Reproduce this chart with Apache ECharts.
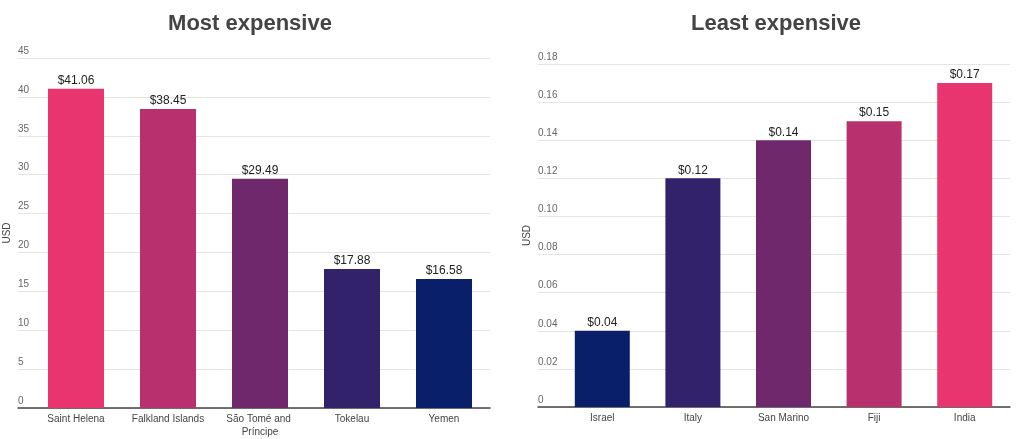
<!DOCTYPE html>
<html>
<head>
    <meta charset="utf-8">
    <title>Most / Least expensive</title>
    <script src="https://cdn.jsdelivr.net/npm/echarts@6.0.0/dist/echarts.min.js"></script>
    <style>
        html, body { margin: 0; padding: 0; background: #fff; }
    </style>
</head>
<body>
    <div id="main" style="width: 1018px;height:439px;"></div>
    <script type="text/javascript">
        // data
        var mostCountries = ['Saint Helena', 'Falkland Islands', 'São Tomé and Príncipe', 'Tokelau', 'Yemen'];
        var mostPrices = [41.06, 38.45, 29.49, 17.88, 16.58];
        var leastCountries = ['Israel', 'Italy', 'San Marino', 'Fiji', 'India'];
        var leastPrices = [0.04, 0.12, 0.14, 0.15, 0.17];
        var mostTicks = [0, 5, 10, 15, 20, 25, 30, 35, 40, 45];
        var leastTicks = [0, 0.02, 0.04, 0.06, 0.08, 0.10, 0.12, 0.14, 0.16, 0.18];

        // colours, dark blue -> pink
        var palette = ['#0a1f69', '#31226b', '#70286c', '#b9306e', '#e8356f'];

        var myChart = echarts.init(document.getElementById('main'));
        var font = 'Arial, "Liberation Sans", sans-serif';

        // background grid: gridlines, tick labels, base line
        function backX(idx, cats) {
            return {
                type: 'category', gridIndex: idx, data: cats,
                axisLine: {show: true, lineStyle: {color: '#444', width: 1.5}},
                axisTick: {show: false}, axisLabel: {show: false}
            };
        }
        function backY(idx, ticks, fmt) {
            return {
                type: 'value', gridIndex: idx,
                min: ticks[0], max: ticks[ticks.length - 1], interval: ticks[1] - ticks[0],
                name: 'USD', nameLocation: 'middle', nameRotate: 90, nameGap: 6,
                nameTextStyle: {color: '#444', fontSize: 10, fontFamily: font},
                axisLine: {show: false}, axisTick: {show: false},
                splitLine: {lineStyle: {color: '#e4e4e4', width: 1}},
                axisLabel: {
                    inside: true, margin: 0, verticalAlign: 'bottom', padding: [0, 0, 2, 0],
                    color: '#666', fontSize: 10, fontFamily: font, formatter: fmt
                }
            };
        }
        // bar grid: category labels only
        function barX(idx, cats) {
            return {
                type: 'category', gridIndex: idx, data: cats,
                axisLine: {show: false}, axisTick: {show: false},
                axisLabel: {
                    interval: 0, margin: 5, color: '#444', fontSize: 10, fontFamily: font,
                    width: 86, overflow: 'break', lineHeight: 13
                }
            };
        }
        function barY(idx, ticks) {
            return {
                type: 'value', gridIndex: idx,
                min: ticks[0], max: ticks[ticks.length - 1], interval: ticks[1] - ticks[0],
                show: false, splitLine: {show: false}
            };
        }
        function barSeries(idx, values, colors, width) {
            return {
                type: 'bar', xAxisIndex: idx, yAxisIndex: idx, barWidth: width,
                data: values.map(function (v, i) {
                    return {value: v, itemStyle: {color: colors[i]}};
                }),
                label: {
                    show: true, position: 'top', distance: 2,
                    color: '#222', fontSize: 12, fontFamily: font,
                    formatter: function (p) { return '$' + p.value.toFixed(2); }
                }
            };
        }

        var mostColors = palette.slice().reverse();
        var leastColors = palette;

        var option = {
            animation: false,
            title: [
                {text: 'Most expensive', left: 245, top: 8, textAlign: 'center',
                 textStyle: {fontSize: 22, fontWeight: 'bold', color: '#444', fontFamily: font}},
                {text: 'Least expensive', left: 771, top: 8, textAlign: 'center',
                 textStyle: {fontSize: 22, fontWeight: 'bold', color: '#444', fontFamily: font}}
            ],
            grid: [
                {left: 18, right: 528, top: 58, bottom: 31},
                {left: 30, right: 528, top: 58, bottom: 31},
                {left: 538, right: 8, top: 64, bottom: 32},
                {left: 557, right: 8, top: 64, bottom: 32}
            ],
            xAxis: [
                backX(0, mostCountries),
                barX(1, mostCountries),
                backX(2, leastCountries),
                barX(3, leastCountries)
            ],
            yAxis: [
                backY(0, mostTicks, function (v) { return String(v); }),
                barY(1, mostTicks),
                backY(2, leastTicks, function (v) { return v === 0 ? '0' : v.toFixed(2); }),
                barY(3, leastTicks)
            ],
            series: [
                barSeries(1, mostPrices, mostColors, 56),
                barSeries(3, leastPrices, leastColors, 55)
            ]
        };

        myChart.setOption(option);
    </script>
</body>
</html>
